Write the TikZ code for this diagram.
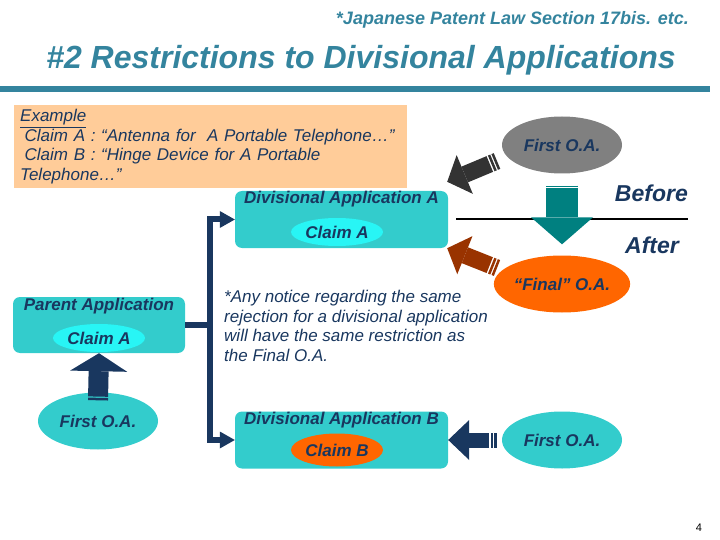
\documentclass[tikz,border=0pt]{standalone}
\usepackage{fontspec}
\setmainfont{Liberation Sans}
\usetikzlibrary{arrows.meta, positioning, shapes.geometric}
\definecolor{titleteal}{RGB}{52,132,158}
\definecolor{navy}{RGB}{25,55,95}
\definecolor{boxteal}{RGB}{51,204,204}
\definecolor{claimcyan}{RGB}{40,245,245}
\definecolor{peach}{RGB}{255,204,153}
\definecolor{oaorange}{RGB}{255,102,0}
\definecolor{oagray}{RGB}{128,128,128}
\definecolor{darkarrow}{RGB}{51,51,51}
\definecolor{brownarrow}{RGB}{153,51,0}
\definecolor{tealarrow}{RGB}{0,128,128}
\newcommand{\bodyfont}{\fontsize{17}{19.5}\selectfont}

\begin{document}
\begin{tikzpicture}[x=1pt, y=-1pt,
  appbox/.style={rectangle, rounded corners=7pt, fill=boxteal,
                 minimum width=213pt, minimum height=57pt, inner sep=0pt},
  boxtitle/.style={anchor=base, text=navy, inner sep=0pt,
                   font=\bodyfont\bfseries\itshape},
  claim/.style={ellipse, fill=claimcyan, minimum width=92pt,
                minimum height=28pt, inner sep=0pt, text=navy,
                font=\bodyfont\bfseries\itshape},
  oa/.style={ellipse, fill=boxteal, minimum width=120pt,
             minimum height=57pt, inner sep=0pt, text=navy,
             font=\bodyfont\bfseries\itshape},
  bracket/.style={draw=navy, line width=6pt},
  blockarrow/.style n args={3}{line width=#1,
                 -{Triangle[length=#2, width=#3, line width=0pt]}},
  stripes/.style={dash pattern=on 2.5pt off 1.3pt on 2.5pt off 1.5pt on 400pt},
  heading/.style={text=titleteal, inner sep=0pt, font=\bfseries\itshape},
  sidelabel/.style={inner sep=0pt, text=navy,
                    font=\fontsize{23}{25}\selectfont\bfseries\itshape}
]
  \useasboundingbox (0,0) rectangle (720,540);

  % ── Heading ────────────────────────────────────────────────────────────────
  \node[heading, font=\fontsize{18}{20}\selectfont\bfseries\itshape,
        anchor=base east] (sub) at (689,25)
    {*Japanese Patent Law Section 17bis. etc.};
  \node[heading, font=\fontsize{32}{36}\selectfont\bfseries\itshape,
        anchor=base] (title) at (361,69)
    {\#2 Restrictions to Divisional Applications};
  \fill[titleteal] (0,86) rectangle (710,92);

  % ── Example box ────────────────────────────────────────────────────────────
  \node[fill=peach, anchor=north west, minimum width=393pt, minimum height=83pt,
        text width=381pt, inner xsep=6pt, inner ysep=0pt, align=left,
        text=navy, font=\bodyfont\itshape] (example) at (14,105)
    {\underline{Example}\\
     \hspace*{4.5pt}Claim A : “Antenna for~ A Portable Telephone…”\\
     \hspace*{4.5pt}Claim B : “Hinge Device for A Portable\\
     Telephone…”};

  % ── Applications ───────────────────────────────────────────────────────────
  \node[appbox, minimum width=172pt, minimum height=56pt] (parent) at (99,325) {};
  \node[boxtitle] at (99,310) {Parent Application};
  \node[claim] (claimP) at (99,338) {Claim A};

  \node[appbox] (divA) at (341.5,219.5) {};
  \node[boxtitle] at (341.5,204) {Divisional Application A};
  \node[claim] (claimA) at (337,232) {Claim A};

  \node[appbox] (divB) at (341.5,440) {};
  \node[boxtitle] at (341.5,424) {Divisional Application B};
  \node[claim, fill=oaorange, minimum height=33pt] (claimB) at (337,450) {Claim B};

  % ── Office actions ─────────────────────────────────────────────────────────
  \node[oa] (oaLeft)  at (98,421)  {First O.A.};
  \node[oa] (oaRight) at (562,440) {First O.A.};
  \node[oa, fill=oagray]   (oaGray)  at (562,145) {First O.A.};
  \node[oa, fill=oaorange] (oaFinal) at (562,284) {“Final” O.A.};

  % ── Parent → divisionals ───────────────────────────────────────────────────
  \draw[bracket] (parent.east) -- ++(25,0) coordinate (fork);
  \draw[bracket, -{Triangle[length=15pt, width=17pt, line width=0pt]}]
    (fork) |- (divA.west);
  \draw[bracket, -{Triangle[length=15pt, width=17pt, line width=0pt]}]
    (fork) |- (divB.west);

  % ── Block arrows ───────────────────────────────────────────────────────────
  \draw[blockarrow={20pt}{18pt}{57pt}, draw=navy,
        dash pattern=on 2.5pt off 1.2pt on 400pt]
    ([yshift=-8pt]oaLeft.north) -- (parent.south);
  \draw[blockarrow={15pt}{21pt}{40pt}, draw=navy, stripes]
    ([xshift=-5pt]oaRight.west) -- (divB.east);

  \coordinate (grayTail) at (497,161);
  \coordinate (brownTail) at (497,268);
  \draw[blockarrow={17pt}{19pt}{42pt}, draw=darkarrow, stripes]
    (grayTail) -- ([xshift=-1pt, yshift=9pt]divA.north east);
  \draw[blockarrow={17pt}{19pt}{41pt}, draw=brownarrow, stripes]
    (brownTail) -- ([xshift=-1pt]divA.south east);

  % ── Before / after ─────────────────────────────────────────────────────────
  \draw[line width=1.6pt] (456,219) -- (688,219);
  \draw[blockarrow={32pt}{27pt}{62pt}, draw=tealarrow,
        dash pattern=on 1pt off 1.2pt on 400pt]
    ([yshift=-12pt]oaGray.south) -- ([yshift=11pt]oaFinal.north);
  \node[sidelabel, anchor=base east] (before) at (688,202) {Before};
  \node[sidelabel, anchor=base] (after) at (652,253) {After};

  % ── Note ───────────────────────────────────────────────────────────────────
  \node[anchor=north west, inner sep=0pt, align=left, text=navy,
        font=\bodyfont\itshape] (note) at (224,290)
    {*Any notice regarding the same\\
     rejection for a divisional application\\
     will have the same restriction as\\
     the Final O.A.};

  \node[anchor=base, inner sep=0pt, font=\fontsize{11}{13}\selectfont] (page)
    at (699,531) {4};
\end{tikzpicture}
\end{document}
